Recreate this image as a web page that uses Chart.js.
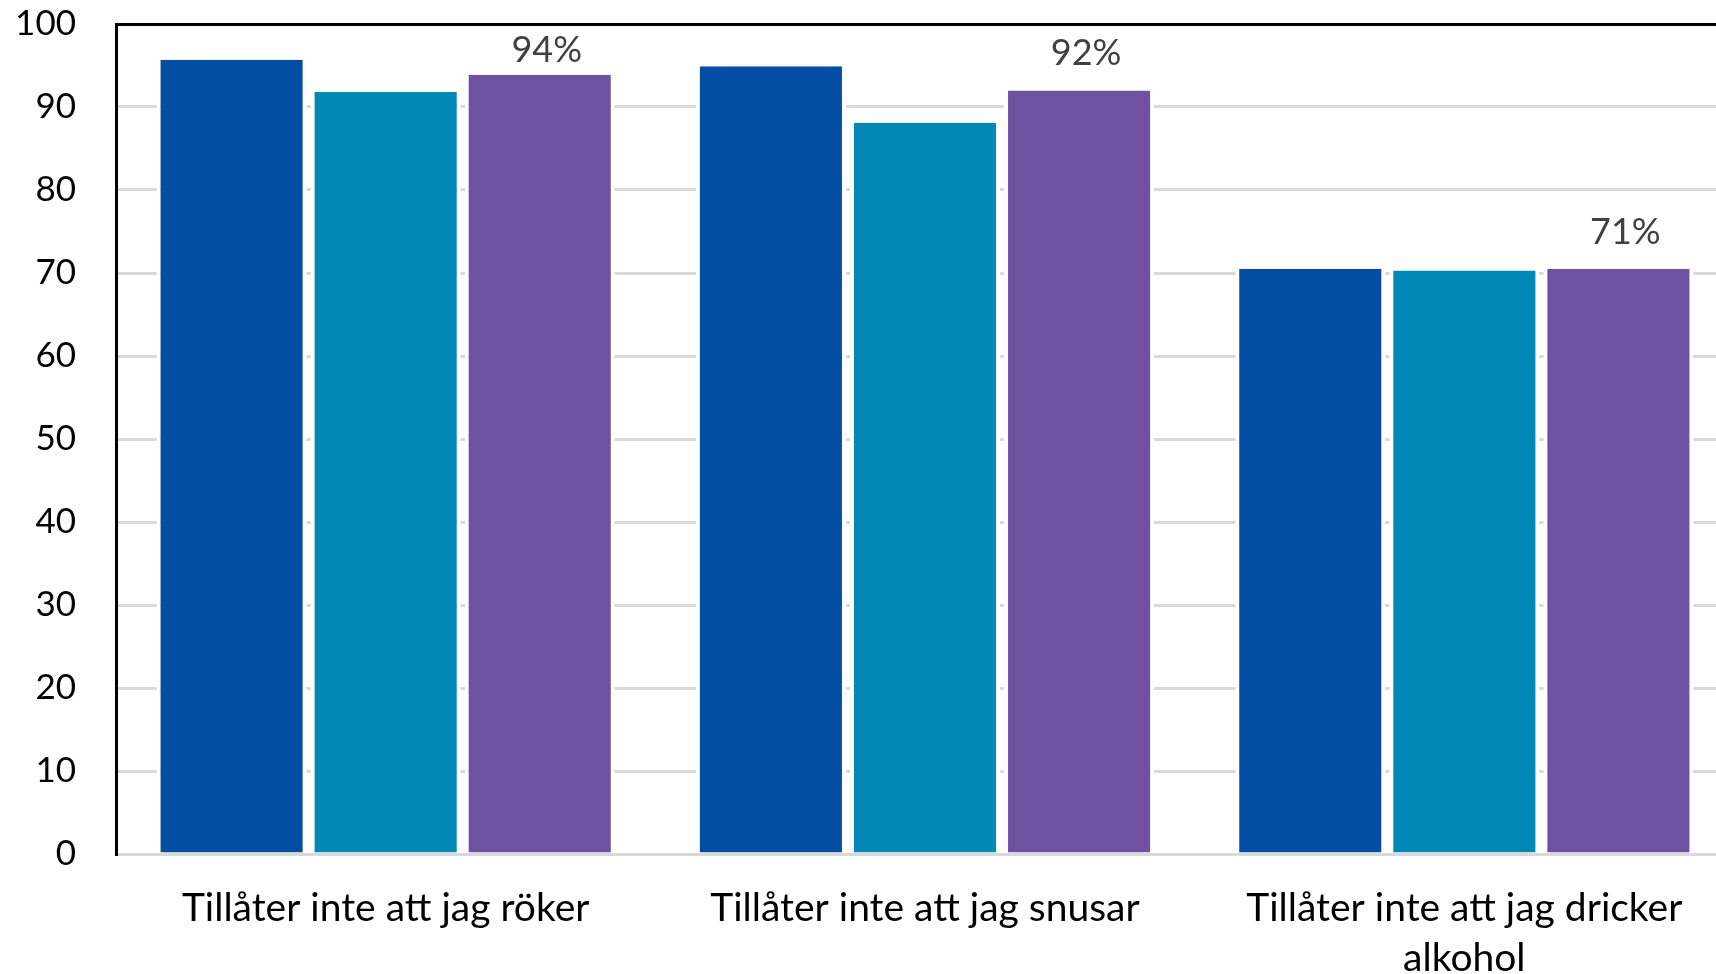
<!DOCTYPE html>
<html>
<head>
<meta charset="utf-8">
<script src="https://cdn.jsdelivr.net/npm/chart.js@4/dist/chart.umd.min.js"></script>
<style>
  html, body { margin: 0; padding: 0; background: #fff; overflow: hidden; width: 1716px; height: 974px; }
  #wrap { width: 1734px; height: 974px; position: absolute; left: 0; top: 0; }
</style>
</head>
<body>
<div id="wrap"><canvas id="c"></canvas></div>
<script>
const categories = [
  "Tillåter inte att jag röker",
  "Tillåter inte att jag snusar",
  ["Tillåter inte att jag dricker", "alkohol"]
];
const series1 = [95.7, 94.9, 70.5];
const series2 = [91.8, 88.1, 70.3];
const series3 = [93.9, 92.0, 70.5];
const series3Labels = ["94%", "92%", "71%"];
const yTicks = [0, 10, 20, 30, 40, 50, 60, 70, 80, 90, 100];

const FONT = "Lato, 'Open Sans', sans-serif";

const labelPlugin = {
  id: 'lastSeriesLabels',
  afterDatasetsDraw(chart) {
    const meta = chart.getDatasetMeta(2);
    const ctx = chart.ctx;
    const minBaseline = chart.chartArea.top + 38;
    ctx.save();
    ctx.font = "36px " + FONT;
    ctx.fillStyle = "#404040";
    ctx.textAlign = "center";
    ctx.textBaseline = "alphabetic";
    meta.data.forEach((bar, i) => {
      const yb = Math.max(bar.y - 25, minBaseline);
      ctx.fillText(series3Labels[i], bar.x + 7, yb);
    });
    ctx.restore();
  }
};

new Chart(document.getElementById('c'), {
  type: 'bar',
  data: {
    labels: categories,
    datasets: [
      { data: series1, backgroundColor: '#034ea2' },
      { data: series2, backgroundColor: '#0089b6' },
      { data: series3, backgroundColor: '#6e51a0' }
    ]
  },
  options: {
    responsive: true,
    maintainAspectRatio: false,
    animation: false,
    devicePixelRatio: 1,
    layout: { padding: { top: 24, right: 0, bottom: 0, left: 0 } },
    datasets: {
      bar: {
        categoryPercentage: 0.857,
        barPercentage: 0.974,
        borderColor: '#ffffff',
        borderWidth: { left: 4, right: 4, top: 0, bottom: 0 },
        borderSkipped: false
      }
    },
    plugins: {
      legend: { display: false },
      tooltip: { enabled: false },
      title: { display: false }
    },
    scales: {
      x: {
        afterFit(scale) { scale.height = 120; scale.paddingLeft = 0; scale.paddingRight = 0; },
        grid: { display: false, drawTicks: false },
        border: { display: true, color: '#d9d9d9', width: 3 },
        ticks: {
          color: '#000',
          font: { family: FONT, size: 39, lineHeight: 1.282 },
          padding: 29,
          maxRotation: 0,
          minRotation: 0,
          autoSkip: false
        }
      },
      y: {
        min: 0,
        max: 100,
        afterBuildTicks(scale) { scale.ticks = yTicks.map(v => ({ value: v })); },
        afterFit(scale) { scale.width = 116; scale.paddingTop = 0; scale.paddingBottom = 0; },
        grid: {
          drawTicks: false,
          color: ctx => (ctx.tick && ctx.tick.value === 100) ? '#000000' : '#d9d9d9',
          lineWidth: 3
        },
        border: { display: true, color: '#000', width: 3 },
        ticks: {
          color: '#000',
          font: { family: FONT, size: 35 },
          padding: 40
        }
      }
    }
  },
  plugins: [labelPlugin]
});
</script>
</body>
</html>
